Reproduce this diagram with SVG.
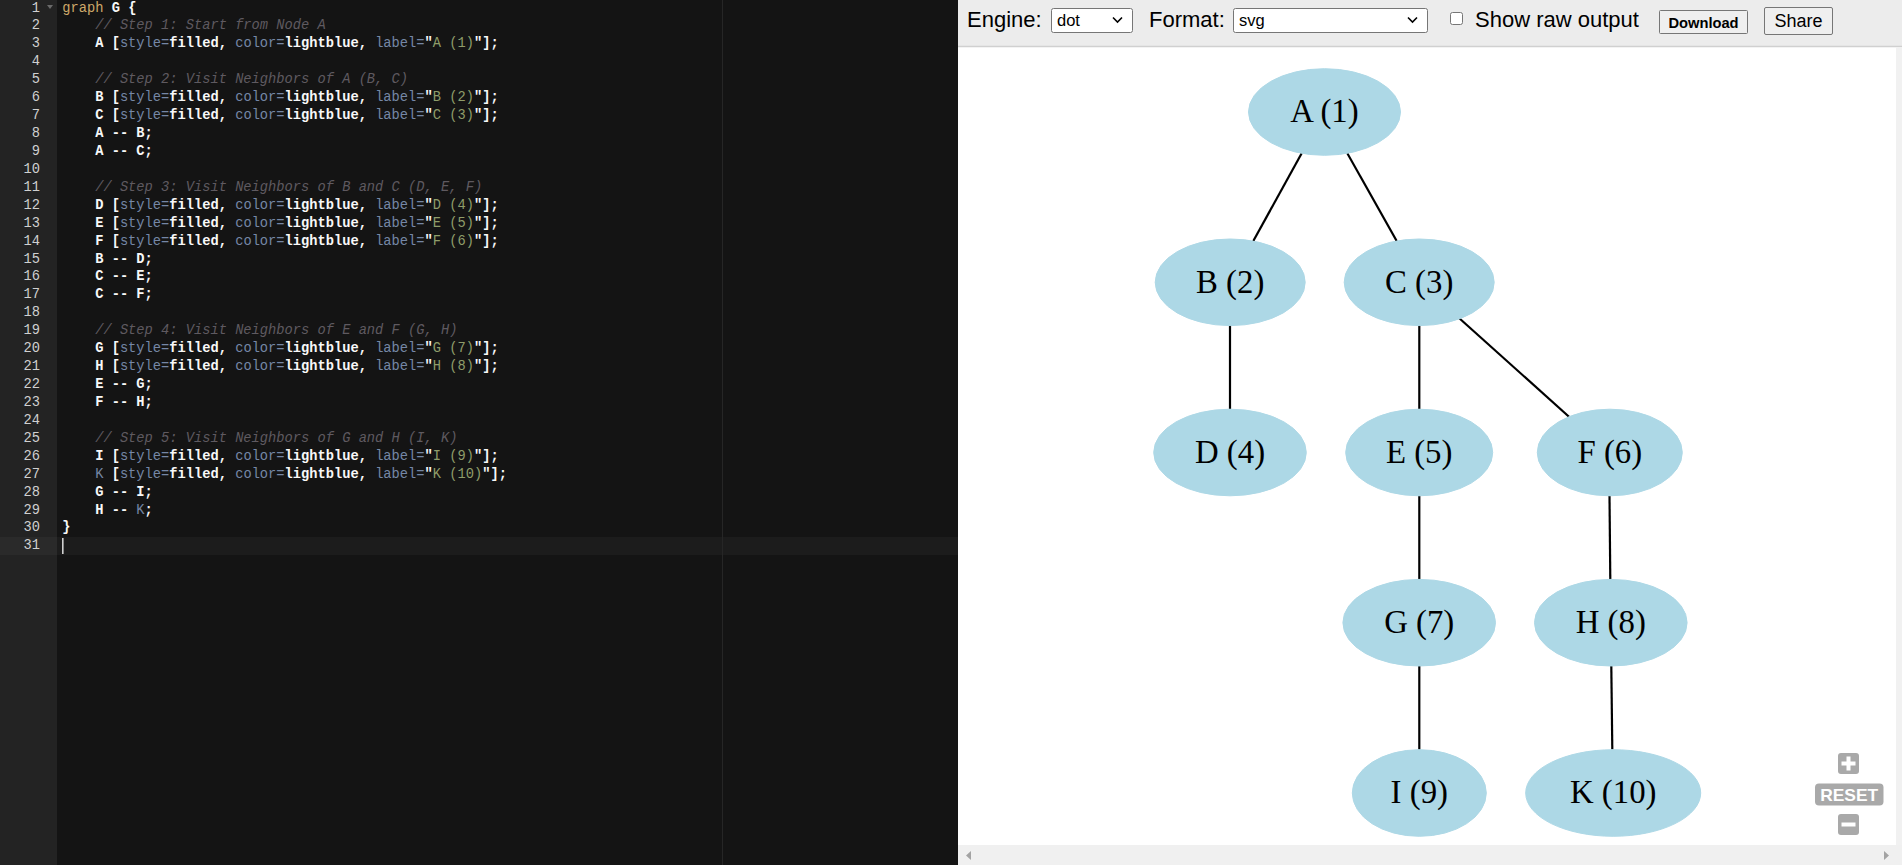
<svg xmlns="http://www.w3.org/2000/svg" width="1902" height="865" viewBox="0 0 1902 865">
<style>
.code{font-family:"Liberation Mono","DejaVu Sans Mono",monospace;font-size:13.72px;fill:#f8f8f8;font-weight:bold;white-space:pre}
.kw{fill:#cda869;font-weight:normal}
.cm{fill:#5f5a60;font-style:italic;font-weight:normal}
.at{fill:#7587a6;font-weight:normal}
.st{fill:#8f9d6a;font-weight:normal}
.ln{font-family:"Liberation Mono","DejaVu Sans Mono",monospace;font-size:13.72px;fill:#d0d0d0;text-anchor:end}
.ui{font-family:"Liberation Sans",Arial,sans-serif;fill:#000}
.node ellipse{fill:#add8e6;stroke:#add8e6;stroke-width:1}
.node text{font-family:"Liberation Serif","Times New Roman",serif;font-size:32.8px;fill:#000;text-anchor:middle}
#edges line{stroke:#000;stroke-width:2.2}
.zbtn{fill:#a9a9a9}
.sel{fill:#fff;stroke:#767676;stroke-width:1}
.btn{fill:#efefef;stroke:#767676;stroke-width:1}
</style>

<!-- Editor panel -->
<g id="editor">
<rect x="0" y="0" width="958" height="865" fill="#141414"/>
<rect x="0" y="0" width="57" height="865" fill="#232323"/>
<rect x="57" y="537" width="901" height="18" fill="#1c1c1c"/>
<rect x="0" y="537" width="57" height="18" fill="#2a2a2a"/>
<line x1="722.5" y1="0" x2="722.5" y2="865" stroke="#262626" stroke-width="1"/>
<rect x="62" y="538" width="1.6" height="16" fill="#cfcfcf"/>
<polygon points="47,5 53,5 50,9" fill="#6a6a6a"/>

<g id="line-numbers">
<text class="ln" x="40" y="11.5">1</text>
<text class="ln" x="40" y="29.43">2</text>
<text class="ln" x="40" y="47.36">3</text>
<text class="ln" x="40" y="65.29">4</text>
<text class="ln" x="40" y="83.22">5</text>
<text class="ln" x="40" y="101.15">6</text>
<text class="ln" x="40" y="119.08">7</text>
<text class="ln" x="40" y="137.01">8</text>
<text class="ln" x="40" y="154.94">9</text>
<text class="ln" x="40" y="172.87">10</text>
<text class="ln" x="40" y="190.8">11</text>
<text class="ln" x="40" y="208.73">12</text>
<text class="ln" x="40" y="226.66">13</text>
<text class="ln" x="40" y="244.59">14</text>
<text class="ln" x="40" y="262.52">15</text>
<text class="ln" x="40" y="280.45">16</text>
<text class="ln" x="40" y="298.38">17</text>
<text class="ln" x="40" y="316.31">18</text>
<text class="ln" x="40" y="334.24">19</text>
<text class="ln" x="40" y="352.17">20</text>
<text class="ln" x="40" y="370.1">21</text>
<text class="ln" x="40" y="388.03">22</text>
<text class="ln" x="40" y="405.96">23</text>
<text class="ln" x="40" y="423.89">24</text>
<text class="ln" x="40" y="441.82">25</text>
<text class="ln" x="40" y="459.75">26</text>
<text class="ln" x="40" y="477.68">27</text>
<text class="ln" x="40" y="495.61">28</text>
<text class="ln" x="40" y="513.54">29</text>
<text class="ln" x="40" y="531.47">30</text>
<text class="ln" x="40" y="549.4">31</text>
</g>

<g id="code">
<text class="code" x="62.3" y="11.5"><tspan class="kw">graph</tspan> G {</text>
<text class="code cm" x="95.2" y="29.43">// Step 1: Start from Node A</text>
<text class="code" x="95.2" y="47.36">A [<tspan class="at">style=</tspan>filled, <tspan class="at">color=</tspan>lightblue, <tspan class="at">label=</tspan>"<tspan class="st">A (1)</tspan>"];</text>
<text class="code cm" x="95.2" y="83.22">// Step 2: Visit Neighbors of A (B, C)</text>
<text class="code" x="95.2" y="101.15">B [<tspan class="at">style=</tspan>filled, <tspan class="at">color=</tspan>lightblue, <tspan class="at">label=</tspan>"<tspan class="st">B (2)</tspan>"];</text>
<text class="code" x="95.2" y="119.08">C [<tspan class="at">style=</tspan>filled, <tspan class="at">color=</tspan>lightblue, <tspan class="at">label=</tspan>"<tspan class="st">C (3)</tspan>"];</text>
<text class="code" x="95.2" y="137.01">A -- B;</text>
<text class="code" x="95.2" y="154.94">A -- C;</text>
<text class="code cm" x="95.2" y="190.8">// Step 3: Visit Neighbors of B and C (D, E, F)</text>
<text class="code" x="95.2" y="208.73">D [<tspan class="at">style=</tspan>filled, <tspan class="at">color=</tspan>lightblue, <tspan class="at">label=</tspan>"<tspan class="st">D (4)</tspan>"];</text>
<text class="code" x="95.2" y="226.66">E [<tspan class="at">style=</tspan>filled, <tspan class="at">color=</tspan>lightblue, <tspan class="at">label=</tspan>"<tspan class="st">E (5)</tspan>"];</text>
<text class="code" x="95.2" y="244.59">F [<tspan class="at">style=</tspan>filled, <tspan class="at">color=</tspan>lightblue, <tspan class="at">label=</tspan>"<tspan class="st">F (6)</tspan>"];</text>
<text class="code" x="95.2" y="262.52">B -- D;</text>
<text class="code" x="95.2" y="280.45">C -- E;</text>
<text class="code" x="95.2" y="298.38">C -- F;</text>
<text class="code cm" x="95.2" y="334.24">// Step 4: Visit Neighbors of E and F (G, H)</text>
<text class="code" x="95.2" y="352.17">G [<tspan class="at">style=</tspan>filled, <tspan class="at">color=</tspan>lightblue, <tspan class="at">label=</tspan>"<tspan class="st">G (7)</tspan>"];</text>
<text class="code" x="95.2" y="370.1">H [<tspan class="at">style=</tspan>filled, <tspan class="at">color=</tspan>lightblue, <tspan class="at">label=</tspan>"<tspan class="st">H (8)</tspan>"];</text>
<text class="code" x="95.2" y="388.03">E -- G;</text>
<text class="code" x="95.2" y="405.96">F -- H;</text>
<text class="code cm" x="95.2" y="441.82">// Step 5: Visit Neighbors of G and H (I, K)</text>
<text class="code" x="95.2" y="459.75">I [<tspan class="at">style=</tspan>filled, <tspan class="at">color=</tspan>lightblue, <tspan class="at">label=</tspan>"<tspan class="st">I (9)</tspan>"];</text>
<text class="code" x="95.2" y="477.68"><tspan class="at">K</tspan> [<tspan class="at">style=</tspan>filled, <tspan class="at">color=</tspan>lightblue, <tspan class="at">label=</tspan>"<tspan class="st">K (10)</tspan>"];</text>
<text class="code" x="95.2" y="495.61">G -- I;</text>
<text class="code" x="95.2" y="513.54">H -- <tspan class="at">K</tspan>;</text>
<text class="code" x="62.3" y="531.47">}</text>
</g>
</g>

<!-- Viewer panel -->
<g id="viewer">
<rect x="958" y="0" width="944" height="865" fill="#ffffff"/>
<rect x="958" y="0" width="944" height="46" fill="#ececec"/>
<line x1="958" y1="46.5" x2="1902" y2="46.5" stroke="#d0d0d0" stroke-width="1.5"/>
<rect x="1896" y="47" width="6" height="798" fill="#f1f1f1"/>
<rect x="958" y="845" width="944" height="20" fill="#f0f0f0"/>
<polygon points="971,851 971,860 966,855.5" fill="#a3a3a3"/>
<polygon points="1884,851 1884,860 1889,855.5" fill="#a3a3a3"/>
</g>

<g id="toolbar">
<text class="ui" x="967" y="27" font-size="22">Engine:</text>
<rect class="sel" x="1051.5" y="8.5" width="81" height="24" rx="2"/>
<text class="ui" x="1057" y="26" font-size="16.5">dot</text>
<polyline points="1113,17.5 1117.5,22 1122,17.5" fill="none" stroke="#000" stroke-width="1.6"/>
<text class="ui" x="1149" y="27" font-size="22">Format:</text>
<rect class="sel" x="1233.5" y="8.5" width="194" height="24" rx="2"/>
<text class="ui" x="1239" y="26" font-size="16.5">svg</text>
<polyline points="1408,17.5 1412.5,22 1417,17.5" fill="none" stroke="#000" stroke-width="1.6"/>
<rect class="sel" x="1450.5" y="12.5" width="12" height="12" rx="2"/>
<text class="ui" x="1475" y="27" font-size="22">Show raw output</text>
<rect class="btn" x="1659.5" y="10.5" width="88" height="23" rx="1"/>
<text class="ui" x="1703.5" y="28" font-size="14.7" font-weight="bold" text-anchor="middle">Download</text>
<rect class="btn" x="1764.5" y="7.5" width="68" height="27" rx="1.5"/>
<text class="ui" x="1798.5" y="27" font-size="18" text-anchor="middle">Share</text>
</g>

<g id="edges">
<line x1="1301.7" y1="153.3" x2="1253.3" y2="241"/>
<line x1="1347.3" y1="153.3" x2="1396.7" y2="241"/>
<line x1="1230" y1="325.5" x2="1230" y2="409"/>
<line x1="1419.3" y1="325.5" x2="1419.3" y2="409"/>
<line x1="1459.3" y1="318.3" x2="1569" y2="416.7"/>
<line x1="1419.3" y1="495.7" x2="1419.3" y2="579.3"/>
<line x1="1609.5" y1="495.7" x2="1610.3" y2="579.3"/>
<line x1="1419.3" y1="666" x2="1419.3" y2="749.5"/>
<line x1="1611.3" y1="666" x2="1612.3" y2="749.5"/>
</g>

<g id="node-A" class="node"><ellipse cx="1324.5" cy="112" rx="76" ry="43.3"/><text x="1324.5" y="122.3">A (1)</text></g>
<g id="node-B" class="node"><ellipse cx="1230.2" cy="282.3" rx="75" ry="43.3"/><text x="1230.2" y="292.6">B (2)</text></g>
<g id="node-C" class="node"><ellipse cx="1419.2" cy="282.3" rx="75" ry="43.3"/><text x="1419.2" y="292.6">C (3)</text></g>
<g id="node-D" class="node"><ellipse cx="1230" cy="452.5" rx="76.3" ry="43.3"/><text x="1230" y="462.8">D (4)</text></g>
<g id="node-E" class="node"><ellipse cx="1419.2" cy="452.5" rx="73.5" ry="43.3"/><text x="1419.2" y="462.8">E (5)</text></g>
<g id="node-F" class="node"><ellipse cx="1609.8" cy="452.5" rx="72.5" ry="43.3"/><text x="1609.8" y="462.8">F (6)</text></g>
<g id="node-G" class="node"><ellipse cx="1419.2" cy="622.7" rx="76.3" ry="43.3"/><text x="1419.2" y="633">G (7)</text></g>
<g id="node-H" class="node"><ellipse cx="1610.8" cy="622.7" rx="76.3" ry="43.3"/><text x="1610.8" y="633">H (8)</text></g>
<g id="node-I" class="node"><ellipse cx="1419.3" cy="793" rx="67" ry="43.3"/><text x="1419.3" y="803.3">I (9)</text></g>
<g id="node-K" class="node"><ellipse cx="1613.2" cy="793" rx="87.5" ry="43.3"/><text x="1613.2" y="803.3">K (10)</text></g>

<g id="zoom-controls">
<rect class="zbtn" x="1838" y="753" width="21" height="21" rx="3"/>
<rect x="1846.5" y="756.5" width="4" height="14" fill="#fff"/>
<rect x="1841.5" y="761.5" width="14" height="4" fill="#fff"/>
<rect class="zbtn" x="1815" y="783.5" width="68.5" height="22" rx="4"/>
<text x="1849.2" y="801" font-family="Liberation Sans,Arial,sans-serif" font-size="17" font-weight="bold" fill="#fff" text-anchor="middle" textLength="58" lengthAdjust="spacingAndGlyphs">RESET</text>
<rect class="zbtn" x="1838" y="814" width="21" height="21" rx="3"/>
<rect x="1841.5" y="822.5" width="14" height="4" fill="#fff"/>
</g>
</svg>
